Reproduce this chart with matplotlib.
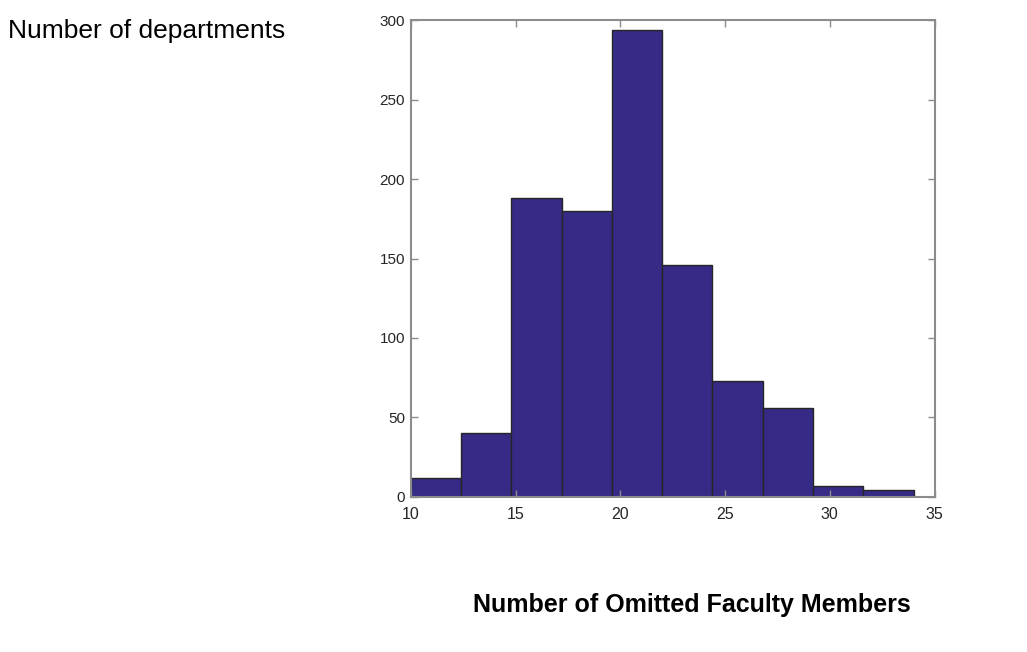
import matplotlib
matplotlib.use("Agg")
import matplotlib.pyplot as plt
import numpy as np

plt.rcParams['font.family'] = ['Liberation Sans', 'DejaVu Sans']

# histogram of omitted faculty members per department
bin_edges = [10, 12.4, 14.8, 17.2, 19.6, 22.0, 24.4, 26.8, 29.2, 31.6, 34.0]
counts = [12, 40, 188, 180, 294, 146, 73, 56, 7, 4]

x_ticks = [10, 15, 20, 25, 30, 35]
y_ticks = [0, 50, 100, 150, 200, 250, 300]

bar_color = '#352a86'
axis_color = '#8c8c8c'
label_color = '#262626'

fig = plt.figure(figsize=(10.27, 6.52), dpi=100)
ax = fig.add_axes([0.400, 0.238, 0.510, 0.731])

edges = np.array(bin_edges)
ax.bar(edges[:-1], counts, width=np.diff(edges), align='edge',
       color=bar_color, edgecolor='#262626', linewidth=1.0)

ax.set_xlim(10, 35)
ax.set_ylim(0, 300)
ax.set_xticks(x_ticks)
ax.set_yticks(y_ticks)

ax.tick_params(direction='in', length=5, width=1, color=axis_color,
               labelcolor=label_color, top=True, right=True)
ax.tick_params(axis='y', labelsize=11, pad=4)
ax.tick_params(axis='x', labelsize=11.5, pad=7)
for sp in ax.spines.values():
    sp.set_color(axis_color)
    sp.set_linewidth(1.5)

fig.text(0.008, 0.952, 'Number of departments', fontsize=19, color='black',
         ha='left', va='center')
fig.text(0.674, 0.072, 'Number of Omitted Faculty Members', fontsize=18,
         fontweight='bold', color='black', ha='center', va='center')

fig.savefig('out.png', dpi=100)
